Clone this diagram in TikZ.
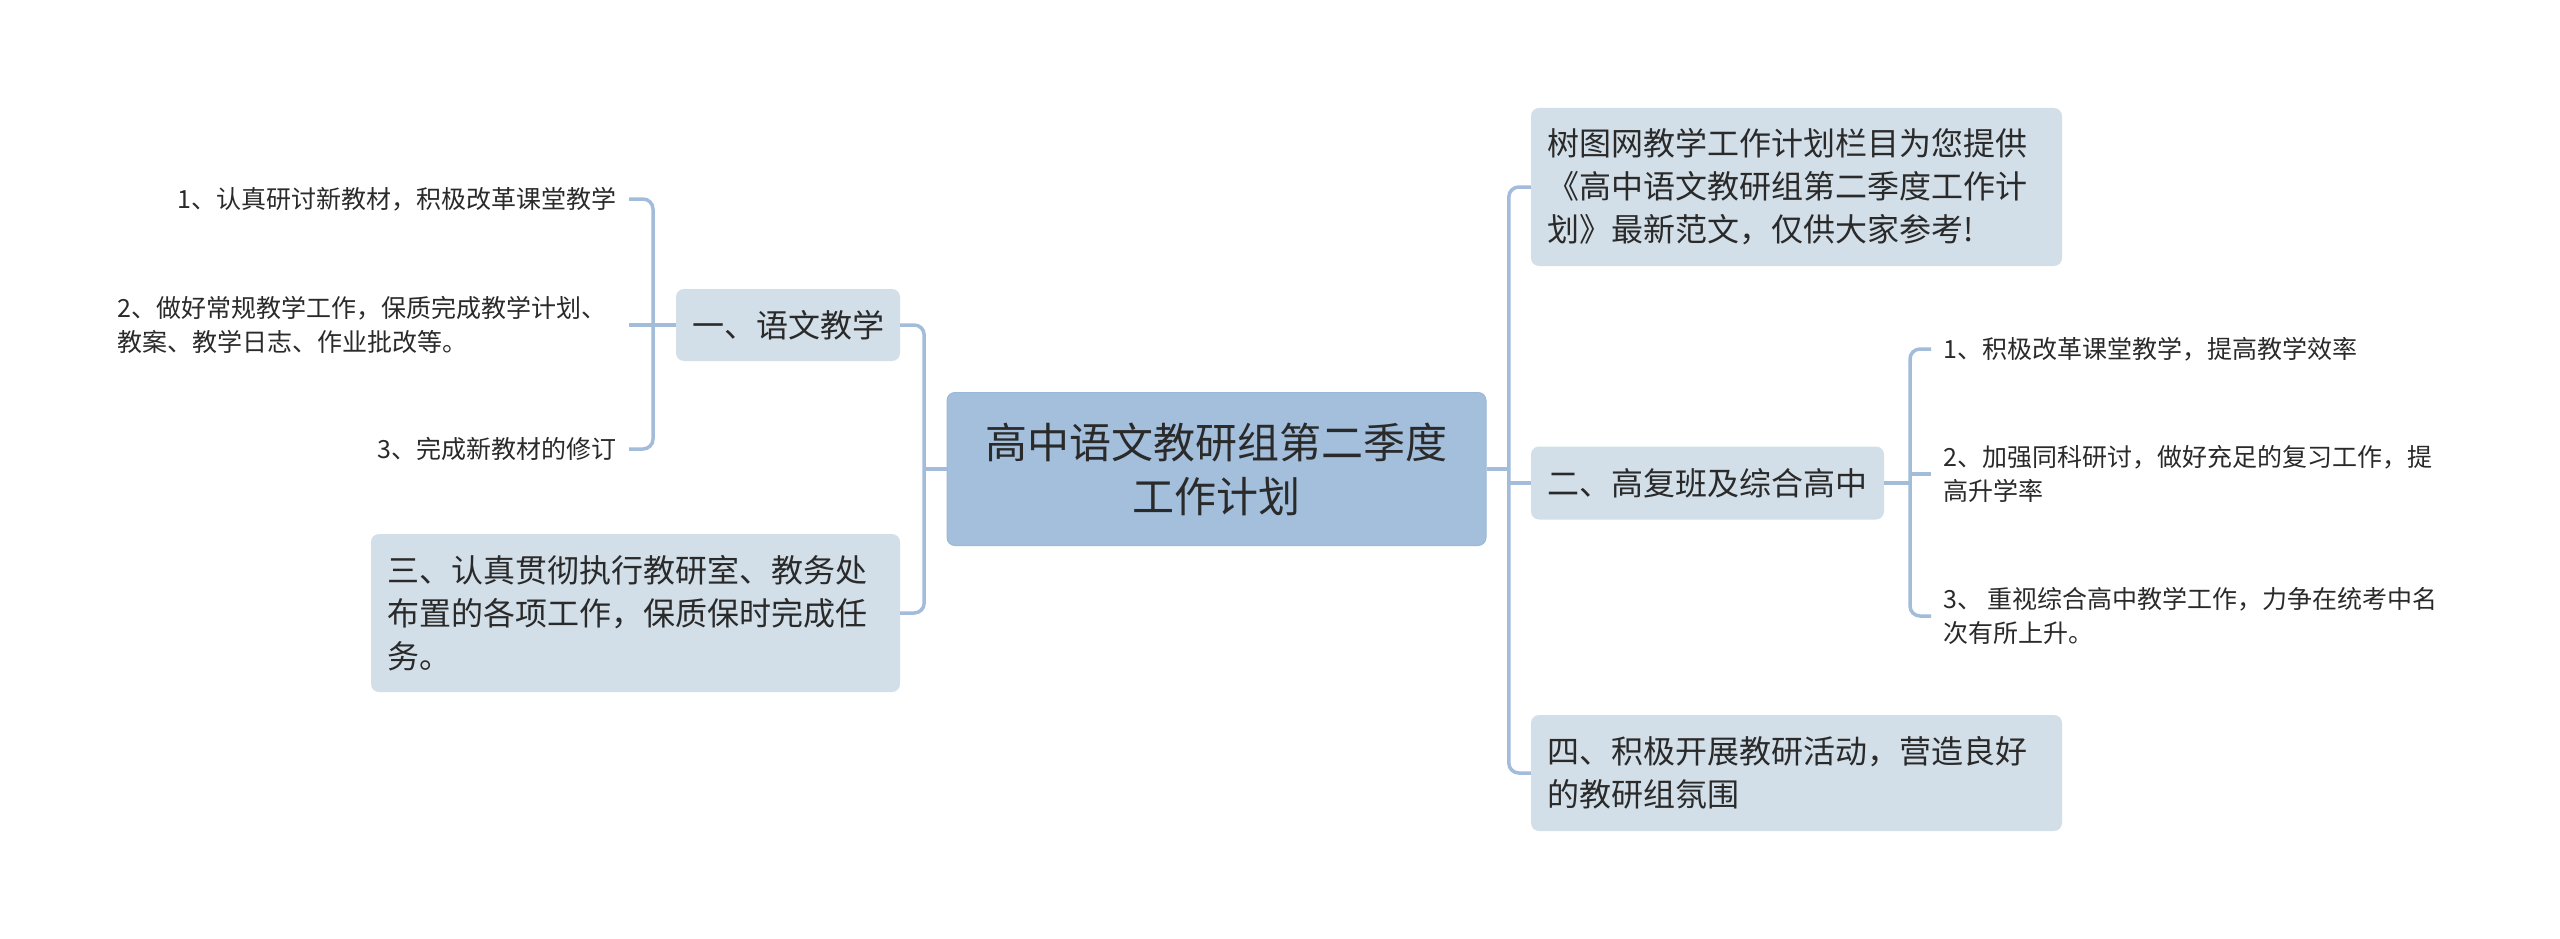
\documentclass[tikz,border=0pt]{standalone}
\usepackage{fontspec}
\setmainfont{Noto Sans CJK SC}
\definecolor{rootfill}{HTML}{A3BFDC}
\definecolor{rootdraw}{HTML}{9AB8D7}
\definecolor{subfill}{HTML}{D3DFE8}
\definecolor{lineblue}{HTML}{A2BCD9}
\definecolor{txt}{HTML}{2A2A2A}
\begin{document}
\begin{tikzpicture}[x=1pt,y=-1pt,
  conn/.style={draw=lineblue, line width=3.5pt, rounded corners=10pt},
  rootbox/.style={fill=rootfill, draw=rootdraw, line width=1pt, rounded corners=8pt,
    minimum width=539pt, minimum height=153pt, align=center, inner sep=0pt,
    font=\fontsize{42}{54}\selectfont, text=txt},
  subbox/.style={fill=subfill, rounded corners=8pt, inner xsep=16pt, inner ysep=0pt,
    align=left, font=\fontsize{32}{43}\selectfont, text=txt},
  leaf/.style={inner xsep=12pt, inner ysep=2pt, align=left,
    font=\fontsize{25}{34}\selectfont, text=txt}
]
\useasboundingbox (0,0) rectangle (2560,939);

% root
\node[rootbox] (root) at (1216.5,469) {高中语文教研组第二季度\\工作计划};

% left main children
\node[subbox, minimum width=224pt, minimum height=72pt, align=center] (s1) at (788,325) {一、语文教学};
\node[subbox, text width=497pt, minimum height=158pt] (s3) at (635.5,613) {三、认真贯彻执行教研室、教务处\\布置的各项工作，保质保时完成任\\务。};

% right main children
\node[subbox, text width=499pt, minimum height=158pt] (r0) at (1796.5,187) {树图网教学工作计划栏目为您提供\\《高中语文教研组第二季度工作计\\划》最新范文，仅供大家参考!};
\node[subbox, minimum width=353pt, minimum height=73pt, align=center] (s2) at (1707.5,483) {二、高复班及综合高中};
\node[subbox, text width=499pt, minimum height=116pt] (s4) at (1796.5,773) {四、积极开展教研活动，营造良好\\的教研组氛围};

% left leaves
\node[leaf, anchor=east] (l1) at (629,199) {1、认真研讨新教材，积极改革课堂教学};
\node[leaf, anchor=east, text width=499pt] (l2) at (629,325) {2、做好常规教学工作，保质完成教学计划、\\教案、教学日志、作业批改等。};
\node[leaf, anchor=east] (l3) at (629,449) {3、完成新教材的修订};

% right leaves
\node[leaf, anchor=west] (q1) at (1931,349) {1、积极改革课堂教学，提高教学效率};
\node[leaf, anchor=west] (q2) at (1931,474) {2、加强同科研讨，做好充足的复习工作，提\\高升学率};
\node[leaf, anchor=west] (q3) at (1931,616) {3、 重视综合高中教学工作，力争在统考中名\\次有所上升。};

% connectors: root left
\draw[conn] (root.west) -- ++(-24,0);
\draw[conn] (s1.east) -- ++(24,0) |- (s3.east);
% s1 leaves
\draw[conn] (s1.west) -- (l2.east);
\draw[conn] (l1.east) -- ++(24,0) |- (l3.east);
% root right
\draw[conn] (root.east) -- ++(23,0);
\draw[conn] (r0.west) -- ++(-22,0) |- (s4.west);
\draw[conn] (s2.west) -- ++(-22,0);
% s2 leaves
\draw[conn] (s2.east) -- ++(26,0);
\draw[conn] (q1.west) -- ++(-21,0) |- (q3.west);
\draw[conn] (q2.west) -- ++(-21,0);
\end{tikzpicture}
\end{document}
